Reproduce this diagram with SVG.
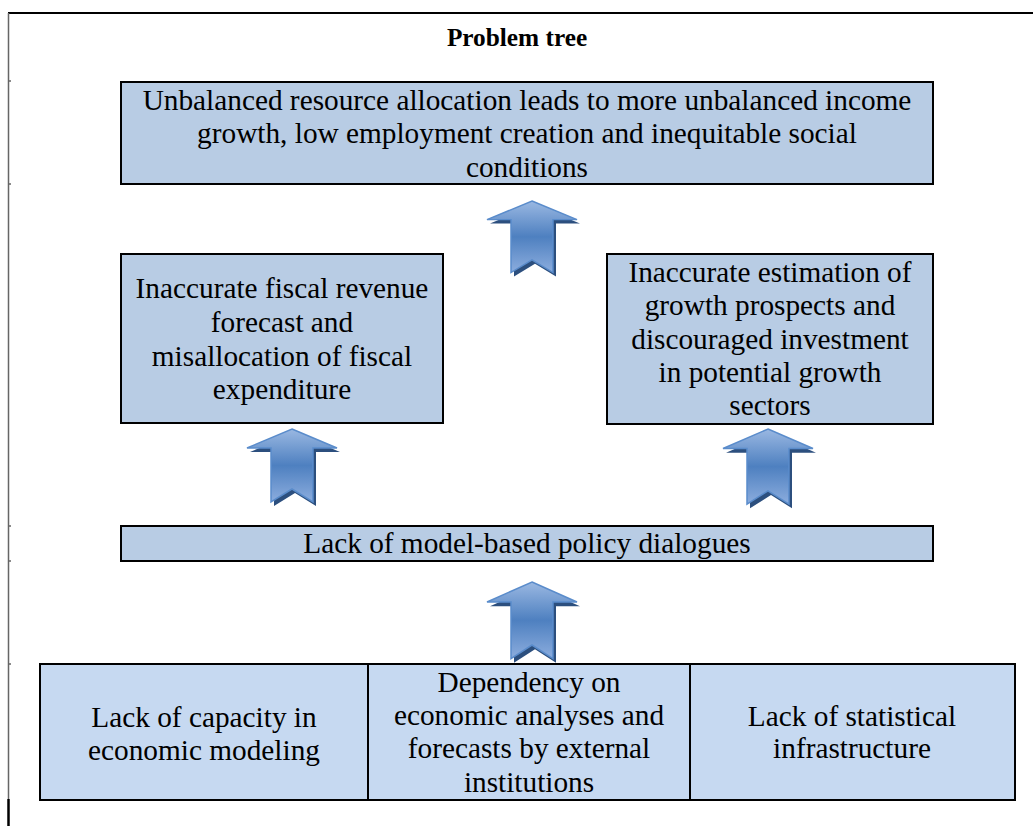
<svg xmlns="http://www.w3.org/2000/svg" width="1033" height="826" viewBox="0 0 1033 826">
<style>
  text { font-family: 'Liberation Serif', serif; }
  .t { font-size: 29.3px; fill: #000; text-anchor: middle; }
  .title { font-size: 25.3px; font-weight: bold; fill: #000; text-anchor: middle; }
  .box { fill: #b8cce4; stroke: #000; stroke-width: 2; }
  .cell { fill: #c6d9f1; stroke: #000; stroke-width: 2; }
  .frame { stroke: #000; stroke-width: 2; fill: none; }
  .tick { stroke: #666; stroke-width: 1.5; }
  .arrow { fill: url(#ag); stroke: #5a8ccb; stroke-width: 1.5; }
  .shadow { fill: #2c4f7e; }
</style>
<defs>
  <linearGradient id="ag" x1="0" y1="0" x2="0" y2="1">
    <stop offset="0" stop-color="#9ab8e2"/>
    <stop offset="0.5" stop-color="#4e80c0"/>
    <stop offset="1" stop-color="#8cadde"/>
  </linearGradient>
  <path id="arr" d="M0,0 L45,19 L21,19 L21,73 L0,60 L-21,73 L-21,19 L-45,19 Z"/>
</defs>

<g id="frame">
  <line class="frame" x1="8" y1="13" x2="1033" y2="13"/>
  <line x1="8.5" y1="13" x2="8.5" y2="799" stroke="#666" stroke-width="1.5"/>
  <line x1="8.5" y1="799" x2="8.5" y2="826" stroke="#000" stroke-width="2.5"/>
  <line class="tick" x1="8" y1="81" x2="11" y2="81"/>
  <line class="tick" x1="8" y1="184" x2="11" y2="184"/>
  <line class="tick" x1="8" y1="526" x2="11" y2="526"/>
  <line class="tick" x1="8" y1="561" x2="11" y2="561"/>
  <line class="tick" x1="8" y1="664" x2="11" y2="664"/>
</g>

<g id="title">
  <text class="title" x="517" y="46" font-family="Liberation Serif">Problem tree</text>
</g>

<g id="node-effect">
  <rect class="box" x="121" y="82" width="812" height="102"/>
  <text class="t" x="527" y="110" font-family="Liberation Serif">Unbalanced resource allocation leads to more unbalanced income</text>
  <text class="t" x="527" y="143" font-family="Liberation Serif">growth, low employment creation and inequitable social</text>
  <text class="t" x="527" y="177" font-family="Liberation Serif">conditions</text>
</g>

<g id="node-fiscal">
  <rect class="box" x="121" y="254" width="322" height="169"/>
  <text class="t" x="282" y="298" font-family="Liberation Serif">Inaccurate fiscal revenue</text>
  <text class="t" x="282" y="332" font-family="Liberation Serif">forecast and</text>
  <text class="t" x="282" y="366" font-family="Liberation Serif">misallocation of fiscal</text>
  <text class="t" x="282" y="399" font-family="Liberation Serif">expenditure</text>
</g>

<g id="node-growth">
  <rect class="box" x="607" y="254" width="326" height="170"/>
  <text class="t" x="770" y="282" font-family="Liberation Serif">Inaccurate estimation of</text>
  <text class="t" x="770" y="315" font-family="Liberation Serif">growth prospects and</text>
  <text class="t" x="770" y="349" font-family="Liberation Serif">discouraged investment</text>
  <text class="t" x="770" y="382" font-family="Liberation Serif">in potential growth</text>
  <text class="t" x="770" y="415" font-family="Liberation Serif">sectors</text>
</g>

<g id="node-dialogues">
  <rect class="box" x="121" y="526" width="812" height="35"/>
  <text class="t" x="527" y="553" font-family="Liberation Serif">Lack of model-based policy dialogues</text>
</g>

<g id="node-capacity">
  <rect class="cell" x="40" y="664" width="328" height="136"/>
  <text class="t" x="204" y="727" font-family="Liberation Serif">Lack of capacity in</text>
  <text class="t" x="204" y="760" font-family="Liberation Serif">economic modeling</text>
</g>

<g id="node-dependency">
  <rect class="cell" x="368" y="664" width="322" height="136"/>
  <text class="t" x="529" y="692" font-family="Liberation Serif">Dependency on</text>
  <text class="t" x="529" y="725" font-family="Liberation Serif">economic analyses and</text>
  <text class="t" x="529" y="758" font-family="Liberation Serif">forecasts by external</text>
  <text class="t" x="529" y="792" font-family="Liberation Serif">institutions</text>
</g>

<g id="node-statistics">
  <rect class="cell" x="690" y="664" width="325" height="136"/>
  <text class="t" x="852" y="726" font-family="Liberation Serif">Lack of statistical</text>
  <text class="t" x="852" y="758" font-family="Liberation Serif">infrastructure</text>
</g>

<g id="connectors">
  <g transform="translate(532,201) scale(1,0.98)">
    <use href="#arr" class="shadow" x="3" y="4"/>
    <use href="#arr" class="arrow"/>
  </g>
  <g transform="translate(292,429)">
    <use href="#arr" class="shadow" x="3" y="4"/>
    <use href="#arr" class="arrow"/>
  </g>
  <g transform="translate(768,429) scale(1,1.03)">
    <use href="#arr" class="shadow" x="3" y="4"/>
    <use href="#arr" class="arrow"/>
  </g>
  <g transform="translate(532,582) scale(1,1.05)">
    <use href="#arr" class="shadow" x="3" y="4"/>
    <use href="#arr" class="arrow"/>
  </g>
</g>
</svg>
